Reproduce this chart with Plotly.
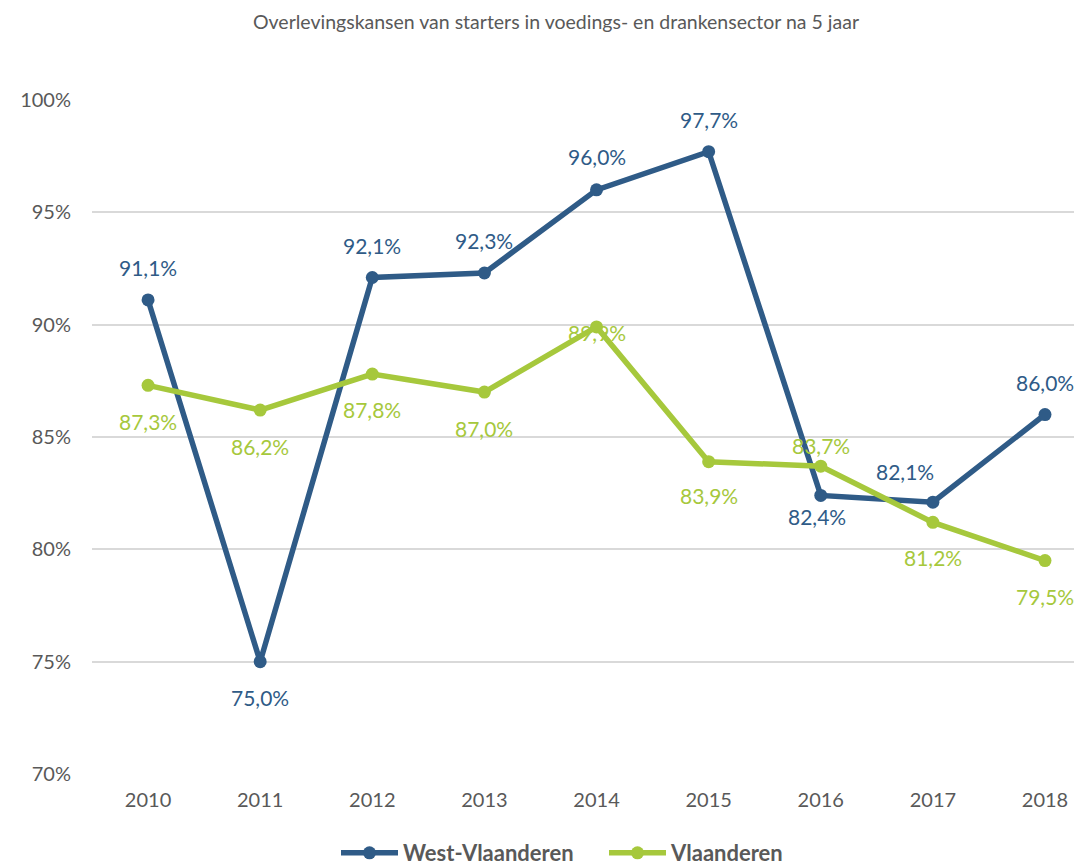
import plotly.graph_objects as go

years = ["2010", "2011", "2012", "2013", "2014", "2015", "2016", "2017", "2018"]
west_vlaanderen = [91.1, 75.0, 92.1, 92.3, 96.0, 97.7, 82.4, 82.1, 86.0]
vlaanderen = [87.3, 86.2, 87.8, 87.0, 89.9, 83.9, 83.7, 81.2, 79.5]
y_ticks = [70, 75, 80, 85, 90, 95, 100]
y_tick_labels = ["70%", "75%", "80%", "85%", "90%", "95%", "100%"]
title_text = "Overlevingskansen van starters in voedings- en drankensector na 5 jaar"

BLUE = "#2F5B87"
GREEN = "#A6C83C"
GRAY = "#595959"
FONT = "Lato"

# label offsets (px) per point: (xshift, yshift)
west_offsets = [(0, 32), (0, -36), (0, 32), (0, 32), (0, 33), (0, 32), (-4, -21), (-28, 31), (0, 32)]
vl_offsets = [(0, -36), (0, -36), (0, -35), (0, -36), (0, -6), (0, -34), (0, 21), (0, -35), (0, -36)]

idx = list(range(len(years)))

fig = go.Figure()
fig.add_trace(go.Scatter(x=idx, y=west_vlaanderen, mode="lines+markers", name="West-Vlaanderen",
                         line=dict(color=BLUE, width=5.5), marker=dict(size=13, color=BLUE), cliponaxis=False))
fig.add_trace(go.Scatter(x=idx, y=vlaanderen, mode="lines+markers", name="Vlaanderen",
                         line=dict(color=GREEN, width=5.5), marker=dict(size=13, color=GREEN), cliponaxis=False))

def fmt(v):
    return f"{v:.1f}".replace(".", ",") + "%"

for i, v, (dx, dy) in zip(idx, west_vlaanderen, west_offsets):
    fig.add_annotation(x=i, y=v, xref="x", yref="y", text=fmt(v), showarrow=False, xshift=dx, yshift=dy,
                       font=dict(family=FONT, size=21, color=BLUE))
for i, v, (dx, dy) in zip(idx, vlaanderen, vl_offsets):
    fig.add_annotation(x=i, y=v, xref="x", yref="y", text=fmt(v), showarrow=False, xshift=dx, yshift=dy,
                       font=dict(family=FONT, size=21, color=GREEN))

W, H = 1074, 857
fig.update_layout(
    width=W, height=H,
    margin=dict(l=84, r=0, t=92, b=91),
    paper_bgcolor="white", plot_bgcolor="white",
    font=dict(family=FONT, color=GRAY),
    title=dict(text=title_text, x=548 / W, xref="container", xanchor="center",
               y=1 - 14 / H, yref="container", yanchor="middle",
               font=dict(family=FONT, size=19.5, color=GRAY)),
    xaxis=dict(range=[-0.5, 8.33], tickvals=idx, ticktext=years, showgrid=False, showline=False,
               zeroline=False, ticks="", tickfont=dict(family=FONT, size=20, color=GRAY), ticklabelstandoff=12),
    yaxis=dict(range=[70, 100], tickvals=y_ticks, ticktext=y_tick_labels, showgrid=True,
               gridcolor="#D9D9D9", gridwidth=1.5, zeroline=False, showline=False, ticks="",
               tickfont=dict(family=FONT, size=20, color=GRAY), ticklabelstandoff=20),
    legend=dict(orientation="h", xanchor="left", x=(336 - 92) / 990, yref="container", y=1 - 845 / H,
                yanchor="middle", font=dict(family=FONT, size=22, color=GRAY, weight="bold"),
                itemwidth=57, entrywidth=196, bgcolor="rgba(0,0,0,0)"),
)

fig.write_html("out.html")
